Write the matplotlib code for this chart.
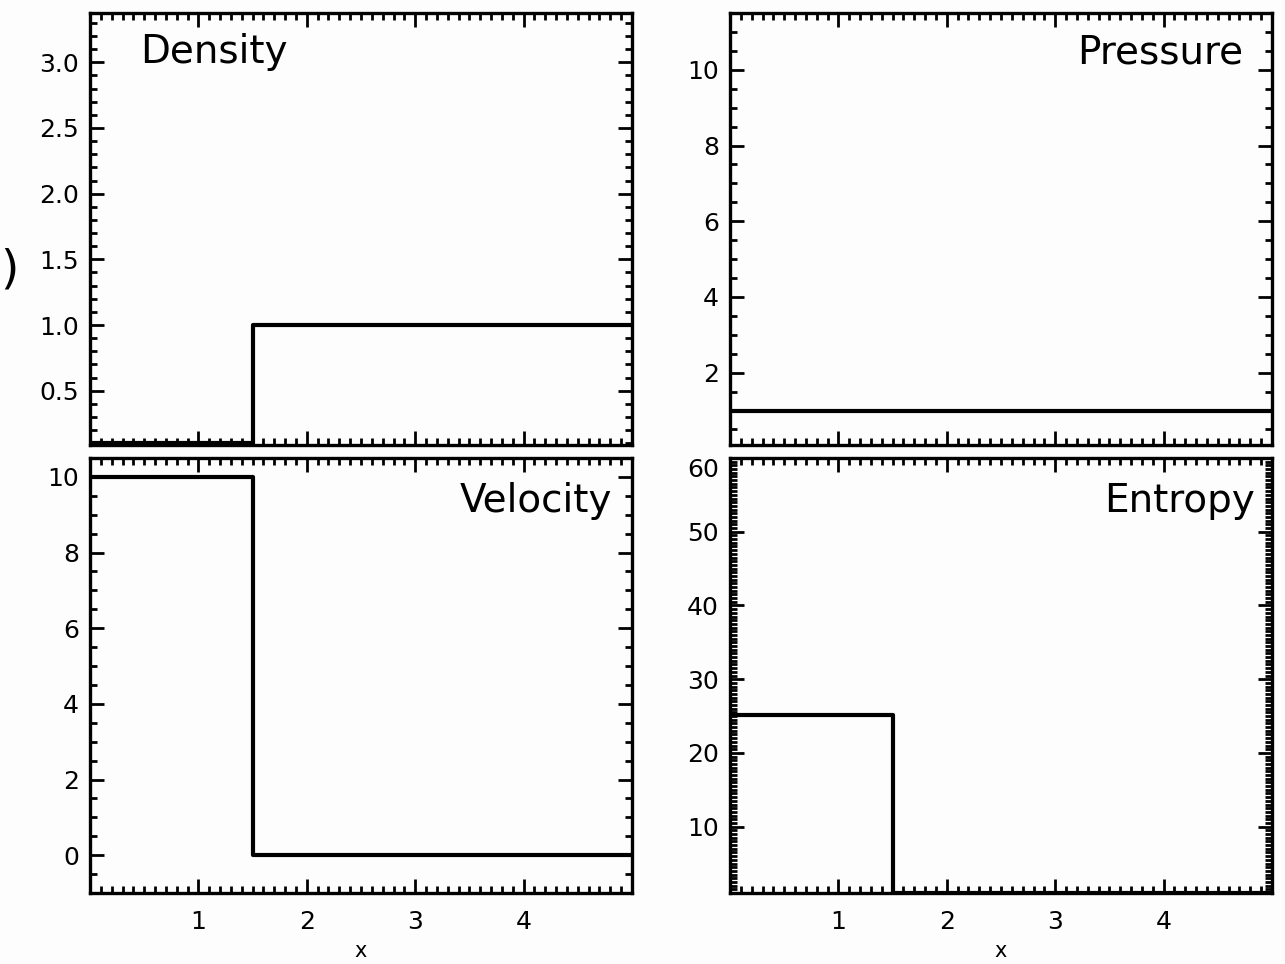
import matplotlib
matplotlib.use("Agg")
import matplotlib.pyplot as plt
from matplotlib.ticker import MultipleLocator

# ---- data ----
x_edges = [0.0, 1.5, 5.0]
density = [0.1, 1.0]
velocity = [10.0, 0.0]
pressure = [1.0, 1.0]
entropy = [25.1, 1.0]

titles = ["Density", "Pressure", "Velocity", "Entropy"]
xticks = [1, 2, 3, 4]
density_ticks = [0.5, 1.0, 1.5, 2.0, 2.5, 3.0]
velocity_ticks = [0, 2, 4, 6, 8, 10]
pressure_ticks = [2, 4, 6, 8, 10]
entropy_ticks = [10, 20, 30, 40, 50, 60]

W, H = 1285, 964
fig = plt.figure(figsize=(W / 100, H / 100), dpi=100)
fig.patch.set_facecolor("#fdfdfd")
plt.rcParams['font.family'] = ['DejaVu Sans']

def px_axes(l, t, r, b):
    return fig.add_axes([l / W, 1 - b / H, (r - l) / W, (b - t) / H])

ax_d = px_axes(90, 13, 632, 445)
ax_p = px_axes(730, 13, 1272, 445)
ax_v = px_axes(90, 458, 632, 893)
ax_e = px_axes(730, 458, 1272, 893)

def step_xy(edges, vals):
    return edges, list(vals) + [vals[-1]]

specs = [
    (ax_d, density, (0.087, 3.375), density_ticks, 0.1, "%.1f"),
    (ax_p, pressure, (0.09, 11.5), pressure_ticks, 0.5, "%d"),
    (ax_v, velocity, (-1.0, 10.5), velocity_ticks, 0.5, "%d"),
    (ax_e, entropy, (1.0, 60.0), entropy_ticks, 0.5, "%d"),
]

for i, (ax, vals, ylim, yt, ymin, fmt) in enumerate(specs):
    ax.set_facecolor("#fdfdfd")
    xs, ys = step_xy(x_edges, vals)
    ax.step(xs, ys, where="post", color="black", lw=3.0, zorder=3)
    ax.set_xlim(0, 5)
    ax.set_ylim(*ylim)
    ax.set_xticks(xticks)
    ax.xaxis.set_minor_locator(MultipleLocator(0.1))
    ax.set_yticks(yt)
    ax.yaxis.set_minor_locator(MultipleLocator(ymin))
    ax.set_yticklabels([fmt % v for v in yt])
    for s in ax.spines.values():
        s.set_linewidth(2.4)
    ax.tick_params(which="both", direction="in", top=True, right=True, width=2.0, color="black")
    ax.tick_params(which="major", length=10)
    ax.tick_params(which="minor", length=5)
    ax.tick_params(axis="y", labelsize=18, pad=8)
    ax.tick_params(axis="x", labelsize=18, pad=12)
    if i < 2:
        ax.tick_params(axis="x", labelbottom=False)
    else:
        ax.set_xlabel("x", fontsize=15, labelpad=5)

# entropy top label sits just below the top edge
lbls = ax_e.get_yticklabels()
lbls[-1].set_verticalalignment("top")

ax_d.text(0.092, 0.884, titles[0], transform=ax_d.transAxes, fontsize=28, ha="left", va="baseline")
ax_p.text(0.9465, 0.884, titles[1], transform=ax_p.transAxes, fontsize=28, ha="right", va="baseline")
ax_v.text(0.963, 0.876, titles[2], transform=ax_v.transAxes, fontsize=28, ha="right", va="baseline")
ax_e.text(0.9686, 0.876, titles[3], transform=ax_e.transAxes, fontsize=28, ha="right", va="baseline")

# glyph at far left edge
fig.text(0.0, 1 - 270 / H, ")", fontsize=34, ha="left", va="center")

fig.savefig("out.png", dpi=100, facecolor=fig.get_facecolor())
